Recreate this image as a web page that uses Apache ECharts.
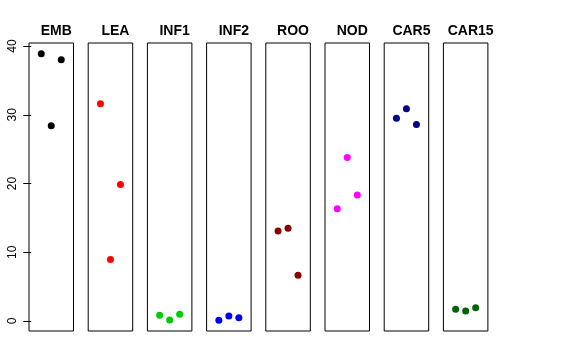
<!DOCTYPE html>
<html><head><meta charset="utf-8">
<script src="https://cdn.jsdelivr.net/npm/echarts@6/dist/echarts.min.js"></script>
<style>html,body{margin:0;padding:0;background:#fff}#c{width:576px;height:360px}</style>
</head><body><div id="c"></div>
<script>
// Data (three replicates per group: left, centre, right jitter slot)
var categories = ["EMB","LEA","INF1","INF2","ROO","NOD","CAR5","CAR15"];
var EMB   = [38.9, 28.4, 38.0];
var LEA   = [31.6, 8.95, 19.85];
var INF1  = [0.83, 0.15, 0.98];
var INF2  = [0.10, 0.73, 0.48];
var ROO   = [13.1, 13.5, 6.67];
var NOD   = [16.35, 23.8, 18.35];
var CAR5  = [29.5, 30.9, 28.6];
var CAR15 = [1.70, 1.46, 1.94];
var slots = [1, 2, 3];
var yTicks = [0, 10, 20, 30, 40];
var colors = ["#000000","#FF0000","#00CD00","#0000FF","#8B0000","#FF00FF","#00008B","#006400"];

(function(){
var groups = [EMB, LEA, INF1, INF2, ROO, NOD, CAR5, CAR15];
var chart = echarts.init(document.getElementById('c'), null, {renderer:'canvas'});
var left0 = 29, step = 59.2, w = 44.5, gTop = 43, h = 288;
var grids = [], xAxes = [], yAxes = [], series = [], titles = [];
groups.forEach(function(vals, i){
  var l = left0 + i*step;
  grids.push({left: l, top: gTop, width: w, height: h, show: true, borderColor: '#000', borderWidth: 1, backgroundColor: 'transparent'});
  xAxes.push({gridIndex: i, type: 'value', min: -0.225, max: 4.225, show: false});
  yAxes.push({gridIndex: i, type: 'value', min: -1.45, max: 40.45,
    show: i === 0,
    axisLine: {show: false},
    axisTick: {show: true, length: 8, lineStyle: {color: '#000'},
      customValues: yTicks},
    axisLabel: {show: true, rotate: 90, margin: 10, color: '#000', fontSize: 12,
      fontFamily: 'Liberation Sans, Arial, sans-serif', customValues: yTicks},
    splitLine: {show: false}});
  series.push({type: 'scatter', xAxisIndex: i, yAxisIndex: i, symbol: 'circle', symbolSize: 7,
    itemStyle: {color: colors[i], opacity: 1}, silent: true,
    data: vals.map(function(v, k){ return [slots[k], v]; })});
  titles.push({text: categories[i], left: l + w/2, top: 19, textAlign: 'center',
    textStyle: {fontSize: 14, fontWeight: 'bold', color: '#000', fontFamily: 'Liberation Sans, Arial, sans-serif'}});
});
chart.setOption({
  animation: false,
  backgroundColor: '#fff',
  title: titles,
  grid: grids, xAxis: xAxes, yAxis: yAxes, series: series
});
})();
</script></body></html>
